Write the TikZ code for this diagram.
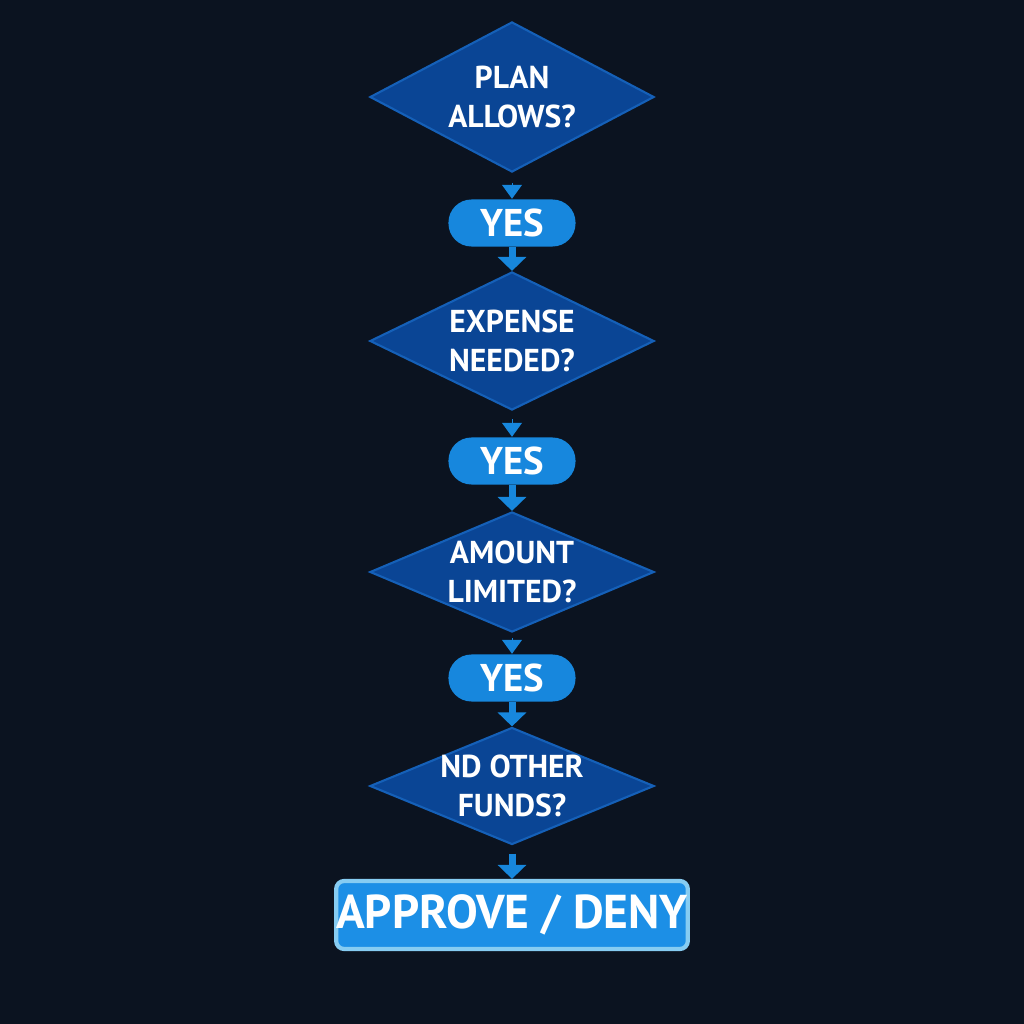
\documentclass[tikz,border=0pt]{standalone}
\usepackage{fontspec}
\setmainfont{PT Sans}
\usetikzlibrary{shapes.geometric, arrows.meta, positioning}
\definecolor{bgdark}{HTML}{0B1320}
\definecolor{decfill}{HTML}{0A4595}
\definecolor{decline}{HTML}{1560B8}
\definecolor{pillblue}{HTML}{1787DD}
\definecolor{boxblue}{HTML}{1C8FE6}
\definecolor{boxline}{HTML}{86CCF2}
\tikzset{
  decision/.style={draw=decline, fill=decfill, line width=0.6pt, diamond,
    minimum width=2.84cm, inner sep=0pt,
    label={[text=white, font=\bfseries\fontsize{9}{11}\selectfont, align=center]center:#1}},
  answer/.style={fill=pillblue, rounded corners=0.23cm, minimum width=1.27cm,
    minimum height=0.47cm, inner sep=0pt, text=white, font=\bfseries\fontsize{11}{12}\selectfont},
  result/.style={draw=boxline, line width=1.2pt, fill=boxblue, rounded corners=0.08cm,
    minimum width=3.28cm, minimum height=0.68cm, inner sep=0pt, text=white,
    font=\bfseries\fontsize{13.5}{15}\selectfont},
  flow/.style={draw=pillblue, line width=0.07cm, -{Triangle[width=0.28cm,length=0.14cm]}},
  tip/.style={draw=pillblue, line width=0.01cm, -{Triangle[width=0.2cm,length=0.14cm]}}
}
\begin{document}
\begin{tikzpicture}[x=0.01cm, y=-0.01cm]
  \fill[bgdark] (0,0) rectangle (1024,1024);
  \node[decision={PLAN\\ALLOWS?}, minimum height=1.5cm] (plan) at (512,97) {};
  \node[answer] (yes1) at (512,223) {YES};
  \node[decision={EXPENSE\\NEEDED?}, minimum height=1.38cm] (expense) at (512,341) {};
  \node[answer] (yes2) at (512,461) {YES};
  \node[decision={AMOUNT\\LIMITED?}, minimum height=1.2cm] (amount) at (512,572) {};
  \node[answer] (yes3) at (512,678) {YES};
  \node[decision={ND OTHER\\FUNDS?}, minimum height=1.17cm] (funds) at (512,786) {};
  \node[result] (decide) at (512,915) {APPROVE / DENY};

  \draw[tip] ([yshift=-0.1cm]plan.south) -- (yes1.north);
  \draw[flow] (yes1.south) -- (expense.north);
  \draw[tip] ([yshift=-0.08cm]expense.south) -- (yes2.north);
  \draw[flow] (yes2.south) -- (amount.north);
  \draw[tip] ([yshift=-0.05cm]amount.south) -- (yes3.north);
  \draw[flow] (yes3.south) -- (funds.north);
  \draw[flow] ([yshift=-0.08cm]funds.south) -- (decide.north);
\end{tikzpicture}
\end{document}
